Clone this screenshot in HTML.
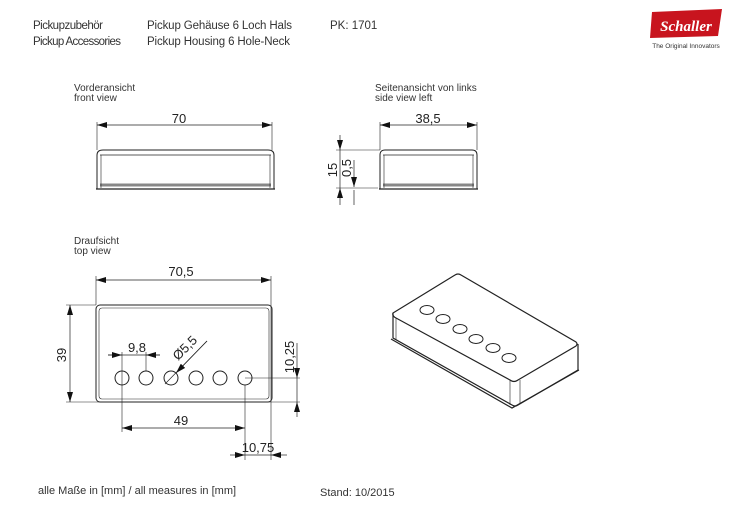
<!DOCTYPE html>
<html><head><meta charset="utf-8"><style>
body{margin:0;background:#fff;}
svg{display:block;font-family:"Liberation Sans","DejaVu Sans",sans-serif;}
</style></head><body>
<svg width="742" height="524" viewBox="0 0 742 524">
<defs>
<marker id="a" viewBox="0 0 10 6" refX="10" refY="3" markerWidth="10" markerHeight="6" orient="auto-start-reverse" markerUnits="userSpaceOnUse"><path d="M0,0L10,3L0,6z" fill="#111"/></marker>
</defs>
<g font-size="11.5" fill="#333">
<text x="33" y="29" textLength="70">Pickupzubehör</text>
<text x="33" y="45" textLength="88">Pickup Accessories</text>
<text x="147" y="29" textLength="145">Pickup Gehäuse 6 Loch Hals</text>
<text x="147" y="45" textLength="143">Pickup Housing 6 Hole-Neck</text>
<text x="330" y="29">PK: 1701</text>
</g>
<path d="M652,12 L722,9 L718,36 L650,38z" fill="#c8141e"/>
<text x="686" y="31" font-size="15" font-style="italic" font-family="Liberation Serif,serif" fill="#fff" text-anchor="middle" font-weight="bold">Schaller</text>
<text x="686" y="48" font-size="6.5" fill="#333" text-anchor="middle">The Original Innovators</text>
<g font-size="10" fill="#333">
<text x="74" y="91">Vorderansicht</text><text x="74" y="101">front view</text>
<text x="375" y="91">Seitenansicht von links</text><text x="375" y="101">side view left</text>
<text x="74" y="244">Draufsicht</text><text x="74" y="254">top view</text>
<text x="38" y="494" font-size="11">alle Maße in [mm] / all measures in [mm]</text>
<text x="320" y="496" font-size="11">Stand: 10/2015</text>
</g>
<g stroke="#222" fill="none" stroke-width="1">
<path d="M97,189 V155 Q97,150 103,150 H268 Q274,150 274,155 V189"/>
<line x1="100" y1="155" x2="271" y2="155" stroke-width="0.7"/>
<line x1="96" y1="189" x2="275" y2="189" stroke-width="1.2"/>
<line x1="100" y1="185" x2="271" y2="185" stroke="#888" stroke-width="3"/>
<line x1="101" y1="155" x2="101" y2="188" stroke-width="0.6"/><line x1="270" y1="155" x2="270" y2="188" stroke-width="0.6"/>
<line x1="97" y1="122" x2="97" y2="150" stroke-width="0.6"/><line x1="272" y1="122" x2="272" y2="150" stroke-width="0.6"/>
<line x1="97" y1="125" x2="272" y2="125" stroke-width="0.7" marker-start="url(#a)" marker-end="url(#a)"/>
<path d="M380,189 V155 Q380,150 385,150 H472 Q477,150 477,155 V189"/>
<line x1="383" y1="155" x2="474" y2="155" stroke-width="0.7"/>
<line x1="379" y1="189" x2="478" y2="189" stroke-width="1.2"/>
<line x1="383" y1="185" x2="474" y2="185" stroke="#888" stroke-width="3"/>
<line x1="384" y1="155" x2="384" y2="188" stroke-width="0.6"/><line x1="473" y1="155" x2="473" y2="188" stroke-width="0.6"/>
<line x1="380" y1="122" x2="380" y2="150" stroke-width="0.6"/><line x1="477" y1="122" x2="477" y2="150" stroke-width="0.6"/>
<line x1="380" y1="125" x2="477" y2="125" stroke-width="0.7" marker-start="url(#a)" marker-end="url(#a)"/>
<line x1="336" y1="150" x2="380" y2="150" stroke-width="0.6"/>
<line x1="336" y1="188" x2="378" y2="188" stroke-width="0.6"/>
<line x1="340" y1="135" x2="340" y2="150" stroke-width="0.7" marker-end="url(#a)"/>
<line x1="340" y1="150" x2="340" y2="188" stroke-width="0.7"/>
<line x1="340" y1="205" x2="340" y2="188" stroke-width="0.7" marker-end="url(#a)"/>
<line x1="354" y1="160" x2="354" y2="187" stroke-width="0.7" marker-end="url(#a)"/>
<line x1="354" y1="205" x2="354" y2="190" stroke-width="0.7"/>
<rect x="96" y="305" width="176" height="97" rx="4"/>
<rect x="99" y="308" width="170" height="91" rx="3" stroke-width="0.6"/>
<line x1="96" y1="276" x2="96" y2="305" stroke-width="0.6"/><line x1="271" y1="276" x2="271" y2="460" stroke-width="0.6"/>
<line x1="96" y1="280" x2="271" y2="280" stroke-width="0.7" marker-start="url(#a)" marker-end="url(#a)"/>
<line x1="66" y1="305" x2="96" y2="305" stroke-width="0.6"/><line x1="66" y1="402" x2="300" y2="402" stroke-width="0.6"/>
<line x1="70" y1="305" x2="70" y2="402" stroke-width="0.7" marker-start="url(#a)" marker-end="url(#a)"/>
<circle cx="122" cy="378" r="7"/><circle cx="146" cy="378" r="7"/><circle cx="171" cy="378" r="7"/>
<circle cx="196" cy="378" r="7"/><circle cx="220" cy="378" r="7"/><circle cx="245" cy="378" r="7"/>
<line x1="122" y1="352" x2="122" y2="432" stroke-width="0.6"/><line x1="146" y1="352" x2="146" y2="371" stroke-width="0.6"/>
<line x1="108" y1="355" x2="160" y2="355" stroke-width="0.7"/>
<line x1="108" y1="355" x2="122" y2="355" stroke-width="0.7" marker-end="url(#a)"/>
<line x1="160" y1="355" x2="146" y2="355" stroke-width="0.7" marker-end="url(#a)"/>
<line x1="165" y1="384" x2="207" y2="341" stroke-width="0.7"/>
<line x1="207" y1="341" x2="176" y2="373" stroke-width="0.7" marker-end="url(#a)"/>
<line x1="245" y1="378" x2="300" y2="378" stroke-width="0.6"/>
<line x1="245" y1="385" x2="245" y2="460" stroke-width="0.6"/>
<line x1="297" y1="343" x2="297" y2="378" stroke-width="0.7" marker-end="url(#a)"/>
<line x1="297" y1="417" x2="297" y2="402" stroke-width="0.7" marker-end="url(#a)"/>
<line x1="297" y1="378" x2="297" y2="402" stroke-width="0.7"/>
<line x1="122" y1="428" x2="245" y2="428" stroke-width="0.7" marker-start="url(#a)" marker-end="url(#a)"/>
<line x1="230" y1="455" x2="245" y2="455" stroke-width="0.7" marker-end="url(#a)"/>
<line x1="287" y1="455" x2="271" y2="455" stroke-width="0.7" marker-end="url(#a)"/>
<line x1="245" y1="455" x2="271" y2="455" stroke-width="0.7"/>
<path d="M393,313 L455,275 Q458,273 461,275 L576,342 Q578,344 576,346 L518,380 Q514,383 510,380 L396,318 Q392,316 393,313z" stroke-width="1.2"/>
<path d="M393,313 V338 L512,405 Q515,407 518,405 L578,370 V344" stroke-width="1.2"/>
<path d="M396,318 V340 M510,380 V405 M520,380 V404" stroke-width="0.6"/>
<path d="M391,339 L512,408 L579,370" stroke-width="1.2"/>
<ellipse cx="427" cy="310" rx="7" ry="4.5"/><ellipse cx="443" cy="319" rx="7" ry="4.5"/>
<ellipse cx="460" cy="329" rx="7" ry="4.5"/><ellipse cx="476" cy="339" rx="7" ry="4.5"/>
<ellipse cx="493" cy="348" rx="7" ry="4.5"/><ellipse cx="509" cy="358" rx="7" ry="4.5"/>
</g>
<g font-size="13" fill="#222" text-anchor="middle">
<text x="179" y="123">70</text>
<text x="428" y="123">38,5</text>
<text transform="translate(337,170) rotate(-90)">15</text>
<text transform="translate(351,168) rotate(-90)">0,5</text>
<text x="181" y="276">70,5</text>
<text transform="translate(66,355) rotate(-90)">39</text>
<text x="137" y="352">9,8</text>
<text transform="translate(188,351) rotate(-45)">Ø5,5</text>
<text transform="translate(294,357) rotate(-90)">10,25</text>
<text x="181" y="425">49</text>
<text x="258" y="452">10,75</text>
</g>
</svg>
</body></html>
